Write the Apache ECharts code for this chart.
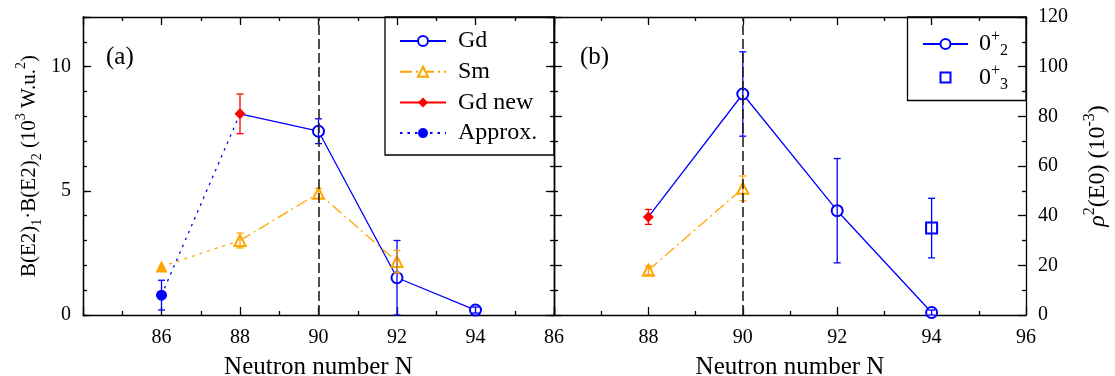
<!DOCTYPE html>
<html>
<head>
<meta charset="utf-8">
<script src="https://cdn.jsdelivr.net/npm/echarts@6/dist/echarts.min.js"></script>
<style>html,body{margin:0;padding:0;background:#fff}#c{width:1115px;height:376px}</style>
</head>
<body>
<div id="c"></div>
<script>
// ---------- Panel (a): B(E2)1*B(E2)2 (10^3 W.u.^2) ----------
const gdN = [88, 90, 92, 94];
const gdB = [8.1, 7.4, 1.5, 0.2];
const gdErr = [0, 0.5, 1.5, 0.12];
const smN = [88, 90, 92];
const smB = [3.0, 4.9, 2.15];
const smErr = [0.3, 0.2, 0.45];
const sm86N = [86, 88];
const sm86B = [1.95, 3.0];
const gdNewN = [88];
const gdNewB = [8.1];
const gdNewErr = [0.8];
const approxN = [86, 88];
const approxB = [0.8, 8.1];
const approxErr = [0.6];

// ---------- Panel (b): rho^2(E0) (10^-3) ----------
const r02N = [88, 90, 92, 94];
const r02 = [39.5, 89, 42, 1];
const r02Err = [0, 17, 21, 1];
const rNewN = [88];
const rNew = [39.5];
const rNewErr = [3];
const smRN = [88, 90];
const smR = [18, 51];
const smRErr = [1.8, 5];
const r03N = [94];
const r03 = [35];
const r03Err = [12];

// ---------- ticks ----------
const leftXTicks = [86, 88, 90, 92, 94];
const rightXTicks = [86, 88, 90, 92, 94, 96];
const leftYTicks = [0, 5, 10];
const rightYTicks = [0, 20, 40, 60, 80, 100, 120];
const splitN = 90;

const FONT = 'Liberation Serif';
const BLUE = '#0000ff', ORANGE = '#ffa500', RED = '#ff0000';
const LW = 1.3;

const chart = echarts.init(document.getElementById('c'), null, {renderer: 'canvas'});

function xAxisDef(grid, pos, min, labels, showName) {
  return {
    type: 'value', gridIndex: grid, position: pos, min: min, max: 96, interval: 2,
    axisLine: {show: true, onZero: false, lineStyle: {color: '#000', width: LW}},
    axisTick: {show: true, inside: true, length: 8, lineStyle: {color: '#000', width: LW}},
    minorTick: {show: true, splitNumber: 2, length: 4, lineStyle: {color: '#000', width: LW}},
    splitLine: {show: false},
    axisLabel: {show: !!labels, margin: 13, fontFamily: FONT, fontSize: 20, color: '#000',
      formatter: v => (labels && labels.indexOf(v) >= 0) ? String(v) : ''},
    name: showName ? 'Neutron number N' : '',
    nameLocation: 'middle', nameGap: 40,
    nameTextStyle: {fontFamily: FONT, fontSize: 25, color: '#000'}
  };
}
function yAxisDef(grid, pos, max, interval, tickLen, labels, minorSplit) {
  return {
    type: 'value', gridIndex: grid, position: pos, min: 0, max: max, interval: interval,
    axisLine: {show: true, onZero: false, lineStyle: {color: '#000', width: LW}},
    axisTick: {show: true, inside: true, length: tickLen, lineStyle: {color: '#000', width: LW}},
    minorTick: {show: !!minorSplit, splitNumber: minorSplit || 5, length: 4, lineStyle: {color: '#000', width: LW}},
    splitLine: {show: false},
    axisLabel: {show: !!labels, margin: 12, fontFamily: FONT, fontSize: 20, color: '#000',
      formatter: v => (labels && labels.indexOf(v) >= 0) ? String(v) : ''}
  };
}

const xAxes = [
  xAxisDef(0, 'bottom', 84, leftXTicks, true),
  xAxisDef(0, 'top', 84, null, false),
  xAxisDef(1, 'bottom', 86, rightXTicks, true),
  xAxisDef(1, 'top', 86, null, false)
];
const yAxes = [
  yAxisDef(0, 'left', 12, 5, 8, leftYTicks, 0),
  yAxisDef(0, 'left', 12, 1, 4, null, 0),
  yAxisDef(0, 'right', 12, 5, 8, null, 0),
  yAxisDef(0, 'right', 12, 1, 4, null, 0),
  yAxisDef(1, 'left', 120, 20, 8, null, 2),
  yAxisDef(1, 'right', 120, 20, 8, rightYTicks, 2)
];
Object.assign(yAxes[0], {
  name: 'B(E2){sub|1}·B(E2){sub|2} (10{sup|3} W.u.{sup|2})',
  nameLocation: 'middle', nameRotate: 90, nameGap: 39,
  nameTextStyle: {fontFamily: FONT, fontSize: 21, color: '#000', lineHeight: 30,
    rich: {
      sub: {fontFamily: FONT, fontSize: 14, color: '#000', lineHeight: 14, verticalAlign: 'bottom'},
      sup: {fontFamily: FONT, fontSize: 14, color: '#000', lineHeight: 14, verticalAlign: 'top'}
    }}
});
Object.assign(yAxes[5], {
  name: '{it|ρ}{sup|2}(E0) (10{sup|-3})',
  nameLocation: 'middle', nameRotate: 90, nameGap: 56,
  nameTextStyle: {fontFamily: FONT, fontSize: 24, color: '#000', lineHeight: 32,
    rich: {
      it: {fontFamily: FONT, fontStyle: 'italic', fontSize: 24, color: '#000', lineHeight: 32},
      sup: {fontFamily: FONT, fontSize: 16, color: '#000', lineHeight: 16, verticalAlign: 'top'}
    }}
});

function pts(xs, ys) { return xs.map((x, i) => [x, ys[i]]); }

function errSeries(xs, ys, es, color, xi, yi) {
  const data = [];
  xs.forEach((x, i) => { if (es[i] > 0) data.push([x, ys[i] - es[i], ys[i] + es[i]]); });
  return {
    type: 'custom', xAxisIndex: xi, yAxisIndex: yi, silent: true, z: 4,
    data: data,
    encode: {x: 0, y: [1, 2]},
    renderItem: (params, api) => {
      const x = api.value(0);
      const a = api.coord([x, api.value(1)]);
      const b = api.coord([x, api.value(2)]);
      const w = 3.5;
      const st = {stroke: color, lineWidth: LW};
      return {type: 'group', children: [
        {type: 'line', shape: {x1: a[0], y1: a[1], x2: b[0], y2: b[1]}, style: st},
        {type: 'line', shape: {x1: a[0] - w, y1: a[1], x2: a[0] + w, y2: a[1]}, style: st},
        {type: 'line', shape: {x1: b[0] - w, y1: b[1], x2: b[0] + w, y2: b[1]}, style: st}
      ]};
    }
  };
}

function vline() {
  return {silent: true, symbol: 'none', label: {show: false},
    lineStyle: {color: '#222', type: [10, 4], width: 1.6}, data: [{xAxis: splitN}]};
}

const series = [
  // ---- panel (a)
  {name: 'Gd', type: 'line', xAxisIndex: 0, yAxisIndex: 0, z: 3,
    data: pts(gdN, gdB).map((p, i) => i === 0 ? {value: p, symbol: 'none'} : p),
    symbol: 'emptyCircle', symbolSize: 11,
    lineStyle: {color: BLUE, width: LW, type: 'solid'},
    itemStyle: {color: BLUE, borderColor: BLUE, borderWidth: LW},
    markLine: vline()},
  {name: 'Sm', type: 'line', xAxisIndex: 0, yAxisIndex: 0, z: 3,
    data: pts(smN, smB), symbol: 'emptyTriangle', symbolSize: 11,
    lineStyle: {color: ORANGE, width: LW, type: [12, 4, 2, 4]},
    itemStyle: {color: ORANGE, borderColor: ORANGE, borderWidth: LW}},
  {name: 'Sm86', type: 'line', xAxisIndex: 0, yAxisIndex: 0, z: 3,
    data: pts(sm86N, sm86B).map((p, i) => i === 1 ? {value: p, symbol: 'none'} : p),
    symbol: 'triangle', symbolSize: 12,
    lineStyle: {color: ORANGE, width: LW, type: [3, 5]},
    itemStyle: {color: ORANGE}},
  {name: 'Gd new', type: 'line', xAxisIndex: 0, yAxisIndex: 0, z: 5,
    data: pts(gdNewN, gdNewB), symbol: 'diamond', symbolSize: 11,
    lineStyle: {color: RED, width: LW},
    itemStyle: {color: RED}},
  {name: 'Approx.', type: 'line', xAxisIndex: 0, yAxisIndex: 0, z: 3,
    data: pts(approxN, approxB).map((p, i) => i === 1 ? {value: p, symbol: 'none'} : p),
    symbol: 'circle', symbolSize: 11,
    lineStyle: {color: BLUE, width: LW, type: [2.5, 5]},
    itemStyle: {color: BLUE}},
  errSeries(gdN, gdB, gdErr, BLUE, 0, 0),
  errSeries(smN, smB, smErr, ORANGE, 0, 0),
  errSeries(gdNewN, gdNewB, gdNewErr, RED, 0, 0),
  errSeries(approxN.slice(0, 1), approxB.slice(0, 1), approxErr, BLUE, 0, 0),
  // ---- panel (b)
  {name: '0+2', type: 'line', xAxisIndex: 2, yAxisIndex: 4, z: 3,
    data: pts(r02N, r02).map((p, i) => i === 0 ? {value: p, symbol: 'none'} : p),
    symbol: 'emptyCircle', symbolSize: 11,
    lineStyle: {color: BLUE, width: LW},
    itemStyle: {color: BLUE, borderColor: BLUE, borderWidth: LW},
    markLine: vline()},
  {name: 'rNew', type: 'line', xAxisIndex: 2, yAxisIndex: 4, z: 5,
    data: pts(rNewN, rNew), symbol: 'diamond', symbolSize: 11,
    lineStyle: {color: RED, width: LW}, itemStyle: {color: RED}},
  {name: 'smR', type: 'line', xAxisIndex: 2, yAxisIndex: 4, z: 3,
    data: pts(smRN, smR), symbol: 'emptyTriangle', symbolSize: 11,
    lineStyle: {color: ORANGE, width: LW, type: [12, 4, 2, 4]},
    itemStyle: {color: ORANGE, borderColor: ORANGE, borderWidth: LW}},
  {name: '0+3', type: 'line', xAxisIndex: 2, yAxisIndex: 4, z: 3,
    data: pts(r03N, r03), symbol: 'emptyRect', symbolSize: 11,
    lineStyle: {color: BLUE, width: LW, opacity: 0},
    itemStyle: {color: BLUE, borderColor: BLUE, borderWidth: LW}},
  errSeries(r02N, r02, r02Err, BLUE, 2, 4),
  errSeries(rNewN, rNew, rNewErr, RED, 2, 4),
  errSeries(smRN, smR, smRErr, ORANGE, 2, 4),
  errSeries(r03N, r03, r03Err, BLUE, 2, 4)
];

const rightLegendText = {'0+2': '0{sup|+}{sub|2}', '0+3': '0{sup|+}{sub|3}'};

const option = {
  animation: false,
  backgroundColor: '#fff',
  grid: [
    {left: 83, top: 17, width: 471, height: 298, containLabel: false, outerBoundsMode: 'none'},
    {left: 554, top: 17, width: 472, height: 298, containLabel: false, outerBoundsMode: 'none'}
  ],
  xAxis: xAxes,
  yAxis: yAxes,
  legend: [
    {data: ['Gd', 'Sm', 'Gd new', 'Approx.'], orient: 'vertical', left: 399, top: 28,
      padding: 0, itemWidth: 46, itemHeight: 12.5, itemGap: 4.7, selectedMode: false,
      textStyle: {fontFamily: FONT, fontSize: 24, color: '#000', lineHeight: 26, padding: [0, 0, 0, 7]}},
    {data: ['0+2', '0+3'], orient: 'vertical', left: 922, top: 29,
      padding: 0, itemWidth: 45, itemHeight: 12.5, itemGap: 3.5, selectedMode: false,
      formatter: n => rightLegendText[n],
      textStyle: {fontFamily: FONT, fontSize: 24, color: '#000', lineHeight: 30, padding: [0, 0, 0, 6],
        rich: {
          sup: {fontFamily: FONT, fontSize: 16, color: '#000', lineHeight: 16, verticalAlign: 'top'},
          sub: {fontFamily: FONT, fontSize: 16, color: '#000', lineHeight: 16, verticalAlign: 'bottom'}
        }}}
  ],
  graphic: [
    {type: 'rect', shape: {x: 385, y: 17, width: 169, height: 138}, style: {fill: 'none', stroke: '#000', lineWidth: LW}, z: 10},
    {type: 'rect', shape: {x: 907.5, y: 17, width: 118.5, height: 83.5}, style: {fill: 'none', stroke: '#000', lineWidth: LW}, z: 10},
    {type: 'text', left: 106, top: 45, style: {text: '(a)', fontFamily: FONT, fontSize: 25, fill: '#000'}},
    {type: 'text', left: 580, top: 45, style: {text: '(b)', fontFamily: FONT, fontSize: 25, fill: '#000'}}
  ],
  series: series
};
chart.setOption(option);
</script>
</body>
</html>
